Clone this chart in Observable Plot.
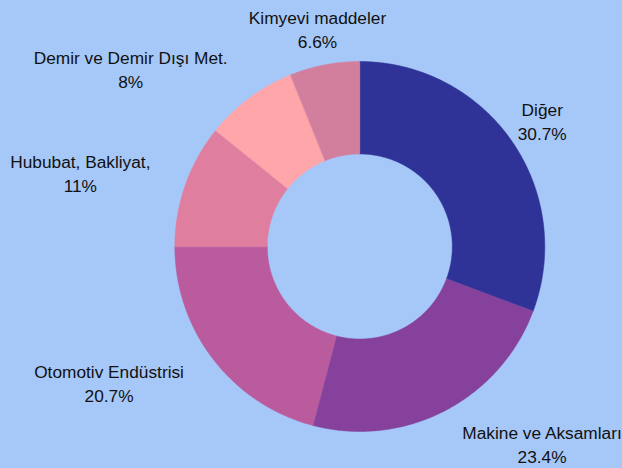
<!DOCTYPE html>
<html><head><meta charset="utf-8">
<script src="https://cdn.jsdelivr.net/npm/d3@7"></script>
<script src="https://cdn.jsdelivr.net/npm/@observablehq/plot@0.6"></script>
<style>
html,body{margin:0;padding:0;background:#a6c8f8;overflow:hidden}
#chart svg{display:block}
</style></head><body><div id="chart"></div>
<script>
const categories = ["Diğer","Makine ve Aksamları","Otomotiv Endüstrisi","Hububat, Bakliyat,","Demir ve Demir Dışı Met.","Kimyevi maddeler"];
const shares = [30.7, 23.4, 20.9, 10.8, 8.1, 6.1];
const shareLabels = ["30.7%","23.4%","20.7%","11%","8%","6.6%"];
const sliceColors = ["#2f3397","#85419b","#ba5b9e","#e07e9f","#ffa6aa","#d27f9e"];

const W = 622, H = 468, cx = 359.3, cy = 246;
const rOuter = 185, rInner = 92.5, rLabel = 222;
const fontSize = 17.3, lineGap = 24;
const fontFamily = "'Liberation Sans', Arial, sans-serif";

const total = d3.sum(shares);
let acc = 0;
const slices = shares.map((v, i) => {
  const a0 = acc / total * 2 * Math.PI; acc += v;
  const a1 = acc / total * 2 * Math.PI;
  return {name: categories[i], label: shareLabels[i], a0, a1};
});

const ring = [];
for (const s of slices) {
  const n = Math.max(2, Math.ceil((s.a1 - s.a0) / (Math.PI / 360)));
  for (let k = 0; k <= n; k++) {
    const a = s.a0 + (s.a1 - s.a0) * k / n;
    ring.push({name: s.name, x: rOuter * Math.sin(a), y: rOuter * Math.cos(a)});
  }
  for (let k = n; k >= 0; k--) {
    const a = s.a0 + (s.a1 - s.a0) * k / n;
    ring.push({name: s.name, x: rInner * Math.sin(a), y: rInner * Math.cos(a)});
  }
}

// label layout: centre on mid-angle point, shift outward if the box would touch the ring
const ctx = document.createElement("canvas").getContext("2d");
ctx.font = `${fontSize}px ${fontFamily}`;
const labelData = slices.map(s => {
  const m = (s.a0 + s.a1) / 2;
  let px = rLabel * Math.sin(m), py = rLabel * Math.cos(m);
  const hw = Math.max(ctx.measureText(s.name).width, ctx.measureText(s.label).width) / 2;
  const hh = lineGap * 0.75;
  const nx = Math.max(px - hw, Math.min(0, px + hw));
  const ny = Math.max(py - hh, Math.min(0, py + hh));
  if (Math.hypot(nx, ny) < rOuter) px += Math.sign(Math.sin(m)) * hw;
  return {x: px, y: py, text: s.name + "\n" + s.label};
});

const chart = Plot.plot({
  width: W, height: H,
  margin: 0,
  style: {background: "#a6c8f8", overflow: "hidden"},
  x: {domain: [-cx, W - cx], axis: null},
  y: {domain: [-(H - cy), cy], axis: null},
  color: {domain: categories, range: sliceColors},
  marks: [
    Plot.line(ring, {x: "x", y: "y", z: "name", fill: "name", stroke: "name", strokeWidth: 0.5, curve: "linear-closed"}),
    Plot.text(labelData, {x: "x", y: "y", text: "text", textAnchor: "middle", lineAnchor: "middle",
      lineHeight: lineGap / fontSize, fontSize, fontFamily, fill: "#111"})
  ]
});
document.getElementById("chart").appendChild(chart);
</script></body></html>
